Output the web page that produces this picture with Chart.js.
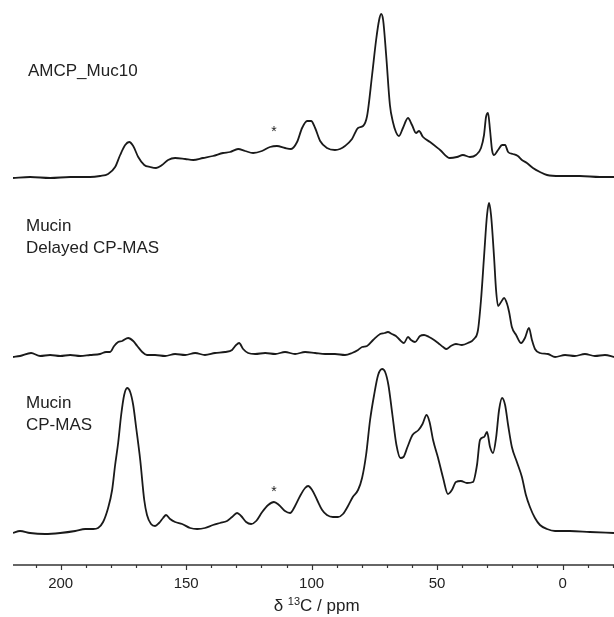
<!DOCTYPE html>
<html>
<head>
<meta charset="utf-8">
<script src="https://cdn.jsdelivr.net/npm/chart.js@4.4.1/dist/chart.umd.min.js"></script>
<style>
  html, body { margin: 0; padding: 0; background: #fff; }
  #wrap { width: 614px; height: 617px; }
</style>
</head>
<body>
<div id="wrap"><canvas id="nmr" width="614" height="617"></canvas></div>
<script>
// ==========================
// Spectra
// ppm positions + intensity above each trace's own baseline
// ==========================
const ppmAMCP = [219.0, 212.2, 204.2, 196.2, 188.3, 184.3, 181.1, 178.3, 176.3, 174.3, 172.7, 171.1, 169.1, 166.7, 164.3, 162.0, 159.6, 157.2, 154.4, 150.4, 147.2, 143.3, 139.3, 135.3, 132.5, 129.3, 126.5, 123.3, 119.8, 116.6, 113.8, 110.6, 108.2, 105.8, 103.8, 101.8, 100.2, 98.6, 96.6, 93.9, 90.7, 88.7, 86.7, 83.9, 81.5, 79.5, 77.9, 75.9, 74.3, 73.1, 72.3, 71.5, 70.3, 68.8, 67.6, 66.4, 65.2, 63.6, 61.6, 60.0, 58.4, 57.2, 55.6, 52.8, 48.8, 44.9, 42.1, 39.7, 36.9, 34.5, 32.5, 31.3, 30.5, 29.7, 28.9, 28.1, 27.3, 25.7, 24.1, 22.9, 21.7, 19.8, 17.8, 16.2, 14.2, 11.8, 9.0, 6.2, 1.0, -6.9, -14.9, -20.5];
const intAMCP = [-1, 0, -1, 0, 0, 1, 3, 10, 22, 32, 35, 31, 20, 12, 10, 9, 12, 17, 19, 18, 17, 19, 21, 24, 25, 28, 26, 24, 26, 30, 31, 29, 28, 35, 49, 56, 56, 49, 36, 29, 27, 28, 31, 38, 49, 51, 61, 102, 137, 157, 163, 157, 122, 72, 55, 45, 41, 49, 59, 52, 44, 46, 40, 35, 27, 19, 20, 22, 20, 22, 29, 42, 60, 64, 47, 27, 22, 27, 32, 32, 25, 23, 21, 17, 14, 9, 5, 2, 1, 1, 0, 0];

const ppmDelayed = [219.0, 216.2, 211.8, 208.2, 204.2, 200.2, 196.2, 192.2, 188.3, 184.3, 181.9, 180.3, 178.7, 177.1, 175.5, 173.1, 171.1, 169.5, 167.5, 165.6, 162.4, 158.4, 154.4, 150.4, 146.4, 142.5, 138.5, 134.5, 131.7, 130.1, 128.9, 127.3, 125.3, 122.5, 118.5, 114.5, 110.6, 106.6, 102.6, 98.6, 94.6, 90.7, 86.7, 83.9, 81.5, 79.9, 77.9, 75.5, 72.7, 70.9, 69.6, 68.0, 66.4, 64.8, 63.2, 61.6, 60.4, 58.8, 56.8, 55.2, 53.2, 51.2, 49.6, 47.6, 46.3, 44.5, 42.5, 40.1, 37.7, 35.3, 33.7, 32.5, 31.3, 30.1, 29.3, 28.5, 27.3, 26.5, 25.7, 24.5, 23.3, 22.1, 21.3, 20.2, 18.5, 16.5, 15.0, 13.4, 12.2, 11.0, 9.0, 5.8, 3.0, -1.0, -4.9, -8.9, -12.9, -16.9, -20.5];
const intDelayed = [-2, -1, 2, -1, 0, -1, 0, -1, 0, 1, 3, 3, 9, 13, 14, 17, 14, 9, 3, 0, 0, -1, 1, 0, 2, 0, 2, 3, 5, 10, 12, 6, 2, 1, 2, 1, 3, 1, 3, 2, 1, 1, 0, 2, 5, 8, 9, 15, 21, 22, 23, 21, 19, 15, 12, 18, 15, 13, 19, 20, 18, 15, 12, 8, 6, 9, 11, 10, 12, 16, 25, 55, 98, 140, 152, 140, 98, 65, 49, 53, 57, 51, 43, 28, 20, 12, 17, 27, 15, 6, 2, 1, -2, 0, -1, 1, -1, 0, -2];

const ppmCPMAS = [219.0, 216.2, 212.2, 206.2, 200.2, 194.2, 190.2, 187.0, 185.1, 183.1, 181.1, 179.5, 178.3, 177.1, 175.9, 174.7, 173.5, 172.3, 171.1, 169.9, 168.3, 166.7, 165.6, 164.0, 162.4, 160.8, 159.2, 158.0, 156.4, 154.4, 151.6, 148.4, 145.6, 142.5, 139.3, 136.5, 133.7, 131.7, 129.7, 128.1, 126.1, 124.1, 122.1, 119.7, 117.3, 115.0, 113.0, 110.6, 108.6, 106.6, 104.6, 102.6, 101.4, 99.8, 97.8, 95.8, 93.9, 91.5, 89.5, 87.5, 85.5, 83.6, 81.5, 79.9, 78.3, 76.7, 75.1, 73.5, 71.9, 70.7, 69.4, 67.8, 66.2, 64.6, 63.4, 61.8, 59.8, 57.4, 55.8, 54.2, 53.0, 51.6, 49.6, 47.6, 45.7, 44.1, 42.5, 40.5, 38.1, 35.7, 34.1, 32.9, 31.3, 30.1, 28.9, 27.7, 26.5, 25.3, 24.1, 22.9, 21.7, 20.2, 18.2, 16.2, 14.6, 13.0, 11.0, 9.0, 6.2, 3.0, -2.9, -10.9, -20.5];
const intCPMAS = [-1, 1, -1, -2, -1, 1, 3, 3, 4, 10, 24, 42, 67, 89, 117, 137, 144, 140, 127, 104, 72, 32, 17, 8, 6, 9, 14, 17, 13, 10, 8, 4, 3, 4, 7, 9, 11, 15, 19, 16, 10, 8, 11, 20, 27, 30, 27, 21, 19, 26, 36, 44, 46, 42, 32, 22, 17, 15, 15, 18, 26, 35, 42, 54, 77, 112, 137, 157, 163, 160, 147, 117, 87, 74, 75, 85, 97, 102, 108, 117, 110, 92, 74, 54, 38, 42, 50, 51, 49, 50, 67, 92, 95, 100, 85, 79, 94, 122, 134, 127, 107, 85, 70, 55, 37, 25, 14, 7, 3, 1, 1, 0, -1];

const traceNames = ["AMCP_Muc10", "Mucin Delayed CP-MAS", "Mucin CP-MAS"];
const traceOffsets = [388, 210, 33];   // vertical stacking of the three spectra
const xTicksMajor = [200, 150, 100, 50, 0];

const FONT = "'Liberation Sans', Arial, sans-serif";

// ==========================
// Helpers
// ==========================
function toPoints(ppm, vals, offset) {
    return ppm.map((p, i) => ({ x: p, y: offset + vals[i] }));
}

function lineSet(label, ppm, vals, offset) {
    return {
        label: label,
        data: toPoints(ppm, vals, offset),
        borderColor: "#1a1a1a",
        borderWidth: 1.8,
        pointRadius: 0,
        cubicInterpolationMode: "monotone",
        fill: false
    };
}

// ==========================
// Axis line, tick marks, labels
// ==========================
const nmrDecor = {
    id: "nmrDecor",
    afterDraw(chart) {
        const ctx = chart.ctx;
        const area = chart.chartArea;
        const xs = chart.scales.x;
        const ys = chart.scales.y;

        ctx.save();
        // axis line
        ctx.strokeStyle = "#333";
        ctx.lineWidth = 1.7;
        ctx.beginPath();
        ctx.moveTo(area.left, area.bottom);
        ctx.lineTo(area.right, area.bottom);
        ctx.stroke();

        // ticks every 10 ppm, longer at labelled ones
        ctx.lineWidth = 1.2;
        xs.ticks.forEach(t => {
            if (t.value % 10 !== 0) return;
            const px = Math.round(xs.getPixelForValue(t.value)) + 0.5;
            const len = xTicksMajor.includes(t.value) ? 5 : 3;
            ctx.beginPath();
            ctx.moveTo(px, area.bottom);
            ctx.lineTo(px, area.bottom + len);
            ctx.stroke();
        });

        // axis title with superscript
        ctx.fillStyle = "#222";
        ctx.textBaseline = "middle";
        const big = "17px " + FONT;
        const small = "11px " + FONT;
        const parts = [["δ ", big, 0], ["13", small, -4], ["C / ppm", big, 0]];
        let total = 0;
        parts.forEach(p => { ctx.font = p[1]; total += ctx.measureText(p[0]).width; });
        let cx = xs.getPixelForValue(98) - total / 2;
        parts.forEach(p => {
            ctx.font = p[1];
            ctx.fillText(p[0], cx, 606 + p[2]);
            cx += ctx.measureText(p[0]).width;
        });

        // trace labels
        ctx.font = "17px " + FONT;
        ctx.fillText("AMCP_Muc10", 28, 71);
        ctx.fillText("Mucin", 26, 226);
        ctx.fillText("Delayed CP-MAS", 26, 248);
        ctx.fillText("Mucin", 26, 403);
        ctx.fillText("CP-MAS", 26, 425);

        // spinning sideband markers
        ctx.font = "14px " + FONT;
        ctx.textAlign = "center";
        ctx.fillText("*", xs.getPixelForValue(115), ys.getPixelForValue(traceOffsets[0] + 45));
        ctx.fillText("*", xs.getPixelForValue(115), ys.getPixelForValue(traceOffsets[2] + 40));
        ctx.restore();
    }
};

// ==========================
// Chart
// ==========================
new Chart(document.getElementById("nmr"), {
    type: "line",
    data: {
        datasets: [
            lineSet(traceNames[0], ppmAMCP, intAMCP, traceOffsets[0]),
            lineSet(traceNames[1], ppmDelayed, intDelayed, traceOffsets[1]),
            lineSet(traceNames[2], ppmCPMAS, intCPMAS, traceOffsets[2])
        ]
    },
    options: {
        responsive: false,
        animation: false,
        layout: { padding: { left: 13, right: 0, top: 0, bottom: 0 } },
        plugins: { legend: { display: false }, tooltip: { enabled: false } },
        scales: {
            x: {
                type: "linear",
                reverse: true,
                min: -20.5,
                max: 219,
                grid: { display: false, drawTicks: false },
                border: { display: false },
                afterFit: s => {
                    s.height = 52;
                    s.paddingLeft = 0;
                    s.paddingRight = 0;
                },
                ticks: {
                    stepSize: 10,
                    includeBounds: false,
                    autoSkip: false,
                    maxRotation: 0,
                    padding: 10,
                    color: "#222",
                    font: { family: FONT, size: 15 },
                    callback: v => (xTicksMajor.includes(v) ? String(v) : "")
                }
            },
            y: {
                display: false,
                min: 0,
                max: 565
            }
        }
    },
    plugins: [nmrDecor]
});
</script>
</body>
</html>
